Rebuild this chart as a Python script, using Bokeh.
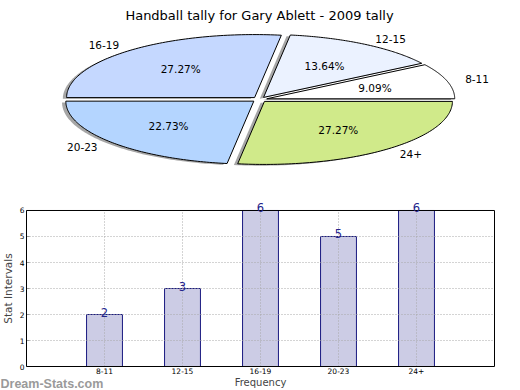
import numpy as np
from bokeh.plotting import figure
from bokeh.models import ColumnDataSource, Range1d, FactorRange, LabelSet, Label, FixedTicker, BoxAnnotation
from bokeh.layouts import column
from bokeh.embed import file_html
from bokeh.resources import INLINE
from bokeh.core.properties import value

# ---- data ----
title_text = "Handball tally for Gary Ablett - 2009 tally"
categories = ["8-11", "12-15", "16-19", "20-23", "24+"]
counts = [2, 3, 6, 5, 6]
slice_colors = ["#ffffff", "#ebf2ff", "#c5d8ff", "#b4d5ff", "#d0ea8a"]
explode = [0.04, 0.04, 0.04, 0.04, 0.04]
y_ticks = [0, 1, 2, 3, 4, 5, 6]
y_max = 6
x_label = "Frequency"
y_label = "Stat Intervals"
watermark = "Dream-Stats.com"

FONT = "DejaVu Sans"
W = 520

# ---- pie geometry (unit circle, stretched into an ellipse by the scales) ----
total = float(sum(counts))
fracs = np.array(counts) / total
ends = np.cumsum(fracs) * 2 * np.pi
starts = ends - fracs * 2 * np.pi
mids = (starts + ends) / 2

xs, ys, sh_xs, sh_ys = [], [], [], []
for s, e, ex in zip(starts, ends, explode):
    m = (s + e) / 2
    cx, cy = ex * np.cos(m), ex * np.sin(m)
    t = np.linspace(s, e, 90)
    px = np.concatenate([[cx], cx + np.cos(t)])
    py = np.concatenate([[cy], cy + np.sin(t)])
    xs.append(list(px)); ys.append(list(py))
    sh_xs.append(list(px - 0.02)); sh_ys.append(list(py - 0.02))

pie = figure(width=W, height=198, x_range=Range1d(-1.3777, 1.3883), y_range=Range1d(-1.571, 1.571),
             output_backend="svg", toolbar_location=None, min_border=0,
             x_axis_location=None, y_axis_location=None)
pie.grid.visible = False
pie.outline_line_color = None

pie.patches(sh_xs, sh_ys, fill_color="#4d4d4d", fill_alpha=0.5, line_color=None)
pie.patches(xs, ys, fill_color=slice_colors, line_color="black", line_width=1)

ex_arr = np.array(explode)
lab_x = (ex_arr + 1.1) * np.cos(mids)
lab_y = (ex_arr + 1.1) * np.sin(mids)
right_side = np.cos(mids) >= 0
for side, align in [(True, "left"), (False, "right")]:
    idx = [i for i in range(len(categories)) if right_side[i] == side]
    pie.text([lab_x[i] for i in idx], [lab_y[i] for i in idx], text=[categories[i] for i in idx],
             text_align=align, text_baseline="middle", text_font=value(FONT),
             text_font_size="10.5px", text_color="black")

pct_x = (ex_arr + 0.6) * np.cos(mids)
pct_y = (ex_arr + 0.6) * np.sin(mids)
pct_txt = ["%.2f%%" % (c / total * 100) for c in counts]
pie.text(list(pct_x), list(pct_y), text=pct_txt, text_align="center", text_baseline="middle",
         text_font=value(FONT), text_font_size="10.5px", text_color="black")

pie.text([0], [1.333], text=[title_text], text_align="center", text_baseline="alphabetic",
         text_font=value(FONT), text_font_size="13px", text_color="black")

# ---- bar chart ----
# factors sit at synthetic 0.5 .. 4.5; the plot box spans -0.5 .. 5.5
pad = 1 / 3
frame_left = -len(categories) * pad / 2
box_left, box_right = -0.5, len(categories) + 0.5
bar = figure(width=W, height=192, x_range=FactorRange(factors=categories, range_padding=pad),
             y_range=Range1d(-0.923, 6.4615), output_backend="svg", toolbar_location=None,
             min_border=0)
bar.grid.visible = False
bar.outline_line_color = None

src = ColumnDataSource(dict(cat=categories, count=counts, lab=[str(c) for c in counts]))
bar.vbar(x="cat", top="count", width=0.46, source=src, fill_color="#cccce5",
         line_color="#1a1a80", line_width=1)

# dotted grid, drawn over the bars, inside the plot box only
grid_y = [t for t in y_ticks if 0 < t < y_max]
bar.segment(x0=categories, y0=[0] * len(categories), x1=categories, y1=[y_max] * len(categories),
            line_color="#a8a8a8", line_dash="1 2", line_width=1)
bar.segment(x0=[box_left] * len(grid_y), y0=grid_y, x1=[box_right] * len(grid_y), y1=grid_y,
            line_color="#a8a8a8", line_dash="1 2", line_width=1)

# the plot box
bar.add_layout(BoxAnnotation(left=box_left, right=box_right, bottom=0, top=y_max, fill_alpha=0,
                             line_color="black", line_alpha=1, line_width=1, level="overlay"))
bar.add_layout(LabelSet(x="cat", y="count", text="lab", source=src, text_align="center",
                        text_baseline="alphabetic", y_offset=-2, text_font=value(FONT),
                        text_font_size="11.5px", text_color="#24248c", level="overlay"))

bar.yaxis.ticker = FixedTicker(ticks=y_ticks)
bar.yaxis.fixed_location = box_left
bar.yaxis.bounds = (0, y_max)
bar.xaxis.fixed_location = 0
for ax in (bar.xaxis, bar.yaxis):
    ax.axis_line_color = None
    ax.major_tick_in = 3
    ax.major_tick_out = 0
    ax.minor_tick_line_color = None
    ax.major_tick_line_color = "#999999"
    ax.major_label_text_font = FONT
    ax.major_label_text_font_size = "7.5px"
    ax.major_label_text_color = "black"
    ax.major_label_standoff = 2
    ax.axis_label_text_font = FONT
    ax.axis_label_text_font_size = "10.5px"
    ax.axis_label_text_font_style = "normal"
bar.xaxis.major_tick_line_color = None
bar.xaxis.major_label_standoff = 1
bar.xaxis.axis_label_text_font_size = "10px"
bar.xaxis.axis_label = x_label
bar.yaxis.axis_label = y_label
bar.xaxis.axis_label_standoff = 0
bar.yaxis.axis_label_standoff = 3

bar.add_layout(Label(x=frame_left, y=-0.692, text=watermark,
                     text_align="left", text_baseline="alphabetic", text_font="Liberation Sans",
                     text_font_size="12.5px", text_font_style="bold", text_color="#9a9a9a"))

layout = column(pie, bar, spacing=0)
open("out.html", "w").write(file_html(layout, INLINE))
